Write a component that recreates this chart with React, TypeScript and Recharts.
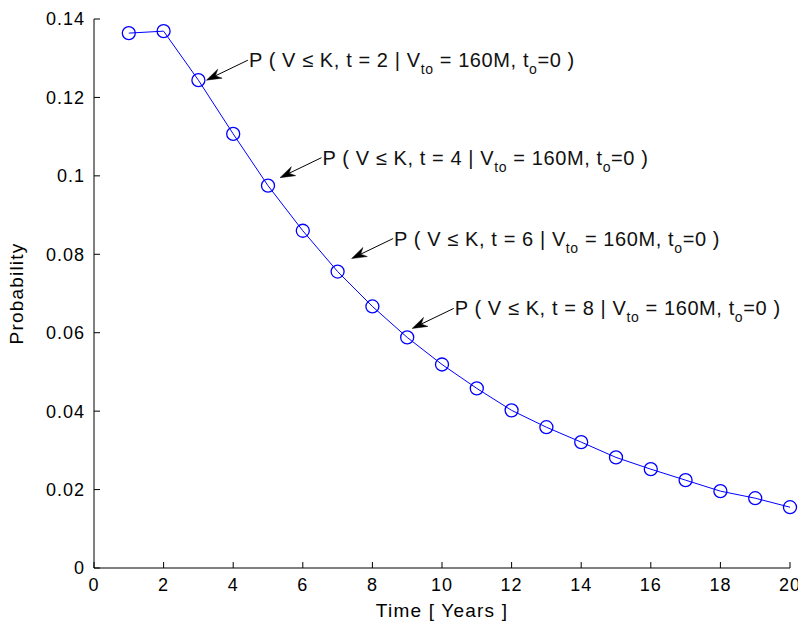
import { LineChart, Line, XAxis, YAxis, ReferenceDot } from 'recharts'

// Probability of the value falling below K over time
const years = [1, 2, 3, 4, 5, 6, 7, 8, 9, 10, 11, 12, 13, 14, 15, 16, 17, 18, 19, 20]
const probability = [
  0.1364, 0.1369, 0.1244, 0.1107, 0.0975, 0.086, 0.0756, 0.0667, 0.0588, 0.0519,
  0.0458, 0.0402, 0.0359, 0.0321, 0.0282, 0.0252, 0.0224, 0.0196, 0.0178, 0.0155,
]

const xTicks = [0, 2, 4, 6, 8, 10, 12, 14, 16, 18, 20]
const yTicks = [0, 0.02, 0.04, 0.06, 0.08, 0.1, 0.12, 0.14]

// annotation labels (t value in the text) and the year each arrow points at
const noteLabels = [2, 4, 6, 8]
const noteTargets = [3, 5, 7, 9]
// arrow tip offset from the target marker, px
const tipOffsets = [
  [8, 0],
  [12, -8],
  [14, -13],
  [5, -9],
]

const data = years.map((t, i) => ({ t, p: probability[i] }))

const FONT = '"Liberation Sans", Arial, Helvetica, sans-serif'
const AXIS = '#000000'
const BLUE = '#0000ff'

const ArrowNote = ({ cx, cy, label, tip }: any) => {
  const x2 = cx + tip[0]
  const y2 = cy + tip[1]
  const x1 = x2 + 41.5
  const y1 = y2 - 20
  const len = Math.hypot(x1 - x2, y1 - y2)
  const ux = (x1 - x2) / len
  const uy = (y1 - y2) / len
  const head = 15
  const notch = 10
  const half = 5
  const bx = x2 + ux * head
  const by = y2 + uy * head
  const nx = x2 + ux * notch
  const ny = y2 + uy * notch
  const pts = [
    `${x2},${y2}`,
    `${bx - uy * half},${by + ux * half}`,
    `${nx},${ny}`,
    `${bx + uy * half},${by - ux * half}`,
  ].join(' ')
  return (
    <g>
      <line x1={x1} y1={y1} x2={nx} y2={ny} stroke="#000" strokeWidth={1} />
      <polygon points={pts} fill="#000" stroke="#000" strokeWidth={0.5} />
      <text x={x1 + 1} y={y1 + 7} fontSize={20} letterSpacing={0.6} fontFamily={FONT} fill="#111">
        {`P ( V ≤ K, t = ${label} | V`}
        <tspan dy={7} fontSize={14}>to</tspan>
        <tspan dy={-7}>{' = 160M, t'}</tspan>
        <tspan dy={7} fontSize={14}>o</tspan>
        <tspan dy={-7}>{'=0 )'}</tspan>
      </text>
    </g>
  )
}

const tickStyle = { fontSize: 18, fontFamily: FONT, fill: '#000', letterSpacing: 1 }
const labelStyle = { fontSize: 19, fontFamily: FONT, fill: '#000', letterSpacing: 1.2 }

export default function App() {
  return (
    <div style={{ position: 'absolute', left: 0, top: 0, background: '#fff' }}>
      <LineChart
        width={798}
        height={624}
        data={data}
        margin={{ top: 19, right: 8, left: 0, bottom: 0 }}
      >
        <XAxis
          dataKey="t"
          type="number"
          domain={[0, 20]}
          ticks={xTicks}
          height={56}
          tickSize={-6}
          tickMargin={16}
          stroke={AXIS}
          tick={tickStyle}
          interval={0}
          label={{
            value: 'Time [ Years ]',
            position: 'insideBottom',
            offset: 7,
            style: labelStyle,
          }}
        />
        <XAxis
          xAxisId="top"
          dataKey="t"
          type="number"
          orientation="top"
          domain={[0, 20]}
          ticks={xTicks}
          height={0}
          tickSize={-6}
          stroke={AXIS}
          tickFormatter={() => ''}
          interval={0}
        />
        <YAxis
          type="number"
          domain={[0, 0.14]}
          ticks={yTicks}
          width={94}
          tickSize={-6}
          tickMargin={15}
          stroke={AXIS}
          tick={tickStyle}
          interval={0}
          label={{
            value: 'Probability',
            angle: -90,
            position: 'insideLeft',
            offset: 16,
            style: { ...labelStyle, textAnchor: 'middle' },
          }}
        />
        <YAxis
          yAxisId="right"
          type="number"
          orientation="right"
          domain={[0, 0.14]}
          ticks={yTicks}
          width={0}
          tickSize={-6}
          stroke={AXIS}
          tickFormatter={() => ''}
          interval={0}
        />
        <Line
          dataKey="p"
          stroke={BLUE}
          strokeWidth={1}
          dot={{ r: 6.5, stroke: BLUE, strokeWidth: 1.3, fill: 'none' }}
          isAnimationActive={false}
        />
        {noteTargets.map((t, i) => (
          <ReferenceDot
            key={t}
            x={t}
            y={probability[years.indexOf(t)]}
            ifOverflow="visible"
            shape={(props: any) => (
              <ArrowNote {...props} label={noteLabels[i]} tip={tipOffsets[i]} />
            )}
          />
        ))}
      </LineChart>
    </div>
  )
}
